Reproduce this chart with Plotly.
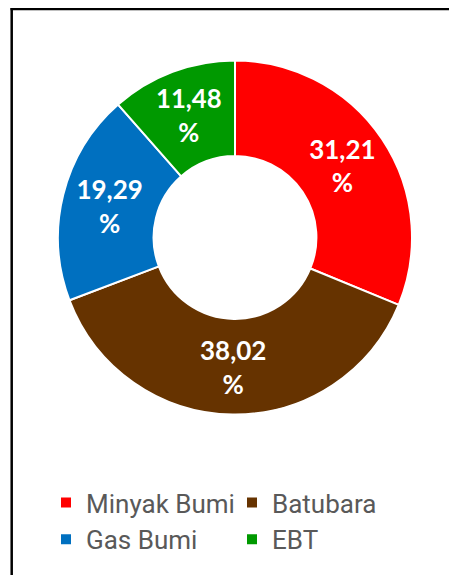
import plotly.graph_objects as go

labels = ["Minyak Bumi", "Batubara", "Gas Bumi", "EBT"]
values = [31.21, 38.02, 19.29, 11.48]
text_labels = ["31,21", "38,02", "19,29", "11,48"]
colors = ["#FF0000", "#663300", "#0070C0", "#009900"]

OFF = 8  # page body margin offset
W, H = 457 - OFF, 575 - OFF
cx, cy, R = 235 - OFF, 237.5 - OFF, 177

fig = go.Figure(go.Pie(
    labels=labels,
    values=values,
    text=text_labels,
    texttemplate="%{text}<br>%",
    textinfo="text",
    textposition="inside",
    insidetextorientation="horizontal",
    textfont=dict(family="Lato", size=26, color="white", weight="bold"),
    hole=0.46,
    sort=False,
    direction="clockwise",
    rotation=0,
    marker=dict(colors=colors, line=dict(color="white", width=2)),
    domain=dict(x=[(cx - R) / W, (cx + R) / W],
                y=[1 - (cy + R) / H, 1 - (cy - R) / H]),
))

bx, by = 3.7 / W, 1 - 1.0 / H
border = dict(color="black", width=2.5)

fig.update_layout(
    width=W, height=H,
    margin=dict(l=0, r=0, t=0, b=0, autoexpand=False),
    paper_bgcolor="white",
    showlegend=True,
    legend=dict(
        orientation="h",
        xref="paper", yref="paper",
        x=38 / W, xanchor="left",
        y=1 - 471 / H, yanchor="top",
        entrywidth=141, entrywidthmode="pixels",
        font=dict(family="Roboto", size=26, color="#595959"),
        itemclick=False,
    ),
    shapes=[
        dict(type="line", xref="paper", yref="paper",
             x0=bx - 1.2 / W, x1=1.0, y0=by, y1=by, line=border),
        dict(type="line", xref="paper", yref="paper",
             x0=bx, x1=bx, y0=0.0, y1=by + 1.2 / H, line=border),
    ],
)

fig.write_html("out.html")
